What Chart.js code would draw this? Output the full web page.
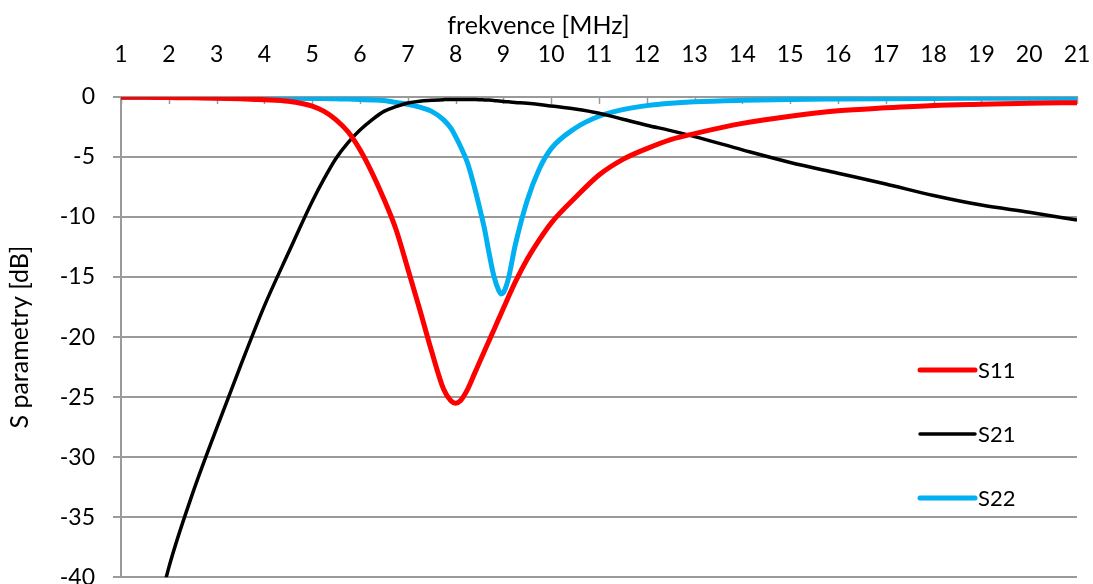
<!DOCTYPE html>
<html>
<head>
<meta charset="utf-8">
<script src="https://cdn.jsdelivr.net/npm/chart.js@4"></script>
<style>
  html, body { margin: 0; padding: 0; overflow: hidden; background: #fff; width: 1093px; height: 584px; }
  #wrap { position: relative; width: 1093px; height: 609px; }
</style>
</head>
<body>
<div id="wrap"><canvas id="c" width="1093" height="609"></canvas></div>
<script>
// Frequency points [MHz]
const freqMHz = [1, 1.5, 2, 2.5, 3, 3.5, 4, 4.5, 5,
  5.25, 5.5, 5.75, 6,
  6.25, 6.5, 6.75, 7,
  7.25, 7.5, 7.75, 7.9,
  8, 8.1, 8.25, 8.4,
  8.5, 8.6, 8.7, 8.8,
  8.9, 8.95, 9, 9.1,
  9.25, 9.5, 9.75, 10,
  10.5, 11, 11.5, 12,
  12.5, 13, 14, 15,
  16, 17, 18, 19,
  20, 21];

// S parameters [dB]
const s11 = [-0.02, -0.03, -0.05, -0.07, -0.1, -0.15, -0.22, -0.35, -0.75,
  -1.2, -1.9, -2.9, -4.4,
  -6.3, -8.5, -11.0, -14.3,
  -17.7, -21.2, -24.35, -25.3,
  -25.5, -25.3, -24.35, -23.0,
  -22.1, -21.2, -20.3, -19.4,
  -18.5, -18.05, -17.6, -16.7,
  -15.4, -13.5, -11.9, -10.5,
  -8.4, -6.5, -5.2, -4.3,
  -3.55, -3.05, -2.2, -1.6,
  -1.15, -0.9, -0.7, -0.6,
  -0.52, -0.47];

const s21 = [-56, -47.5, -39.2, -33, -27.6, -22.4, -17.4, -13, -8.7,
  -6.8, -5.1, -3.8, -2.75,
  -1.9, -1.2, -0.8, -0.5,
  -0.35, -0.28, -0.22, -0.2,
  -0.2, -0.2, -0.2, -0.21,
  -0.22, -0.24, -0.26, -0.29,
  -0.33, -0.35, -0.37, -0.4,
  -0.45, -0.53, -0.63, -0.75,
  -1.0, -1.35, -1.85, -2.35,
  -2.8, -3.3, -4.4, -5.45,
  -6.35, -7.25, -8.2, -9.0,
  -9.6, -10.25];

const s22 = [-0.02, -0.03, -0.04, -0.05, -0.06, -0.07, -0.08, -0.1, -0.12,
  -0.13, -0.15, -0.17, -0.2,
  -0.24, -0.3, -0.45, -0.6,
  -0.85, -1.2, -1.9, -2.6,
  -3.3, -4.1, -5.5, -7.6,
  -9.2, -10.9, -13.0, -14.9,
  -16.1, -16.4, -16.3, -15.2,
  -12.3, -8.6, -6.0, -4.3,
  -2.6, -1.6, -1.05, -0.72,
  -0.52, -0.4, -0.28, -0.21,
  -0.17, -0.14, -0.12, -0.11,
  -0.1, -0.1];

const seriesNames = ['S11', 'S21', 'S22'];
const xTitle = 'frekvence [MHz]';
const yTitle = 'S parametry [dB]';

const FONT = 'Lato, "Open Sans", sans-serif';
const GRID = '#9a9a9a';

function points(values) {
  return freqMHz.map((f, i) => ({ x: f, y: values[i] }));
}

// short tick marks hanging below the top axis line
const innerTicks = {
  id: 'innerTicks',
  beforeDatasetsDraw(chart) {
    const sx = chart.scales.x;
    const top = chart.chartArea.top;
    const ctx = chart.ctx;
    ctx.save();
    ctx.strokeStyle = GRID;
    ctx.lineWidth = 1.5;
    sx.ticks.forEach((t, i) => {
      const px = Math.round(sx.getPixelForTick(i)) + 0.5;
      ctx.beginPath();
      ctx.moveTo(px, top);
      ctx.lineTo(px, top + 7);
      ctx.stroke();
    });
    ctx.restore();
  }
};

// legend drawn inside the plot, lower right
const insideLegend = {
  id: 'insideLegend',
  afterDatasetsDraw(chart, args, opts) {
    const ca = chart.chartArea;
    const ctx = chart.ctx;
    ctx.save();
    ctx.font = opts.font;
    ctx.textBaseline = 'middle';
    ctx.textAlign = 'left';
    chart.data.datasets.forEach((ds, i) => {
      const y = ca.top + opts.offsetY + i * opts.spacing;
      const x0 = ca.right - opts.offsetX;
      ctx.strokeStyle = ds.borderColor;
      ctx.lineWidth = ds.borderWidth;
      ctx.lineCap = 'round';
      ctx.beginPath();
      ctx.moveTo(x0, y);
      ctx.lineTo(x0 + opts.sample, y);
      ctx.stroke();
      ctx.fillStyle = '#000';
      ctx.fillText(ds.label, x0 + opts.sample + 3, y + 1);
    });
    ctx.restore();
  }
};

new Chart(document.getElementById('c'), {
  type: 'line',
  data: {
    datasets: [
      { label: seriesNames[0], data: points(s11), borderColor: '#ff0000', borderWidth: 5 },
      { label: seriesNames[1], data: points(s21), borderColor: '#000000', borderWidth: 3.5 },
      { label: seriesNames[2], data: points(s22), borderColor: '#00b0f0', borderWidth: 5 }
    ]
  },
  options: {
    responsive: false,
    animation: false,
    layout: { padding: { left: 0, right: 16, top: 0, bottom: 0 } },
    elements: {
      point: { radius: 0 },
      line: { cubicInterpolationMode: 'monotone', capBezierPoints: true, borderJoinStyle: 'round' }
    },
    plugins: {
      legend: { display: false },
      tooltip: { enabled: false },
      title: {
        display: true,
        text: xTitle,
        color: '#000',
        font: { family: FONT, size: 25, weight: 'normal' },
        padding: { top: 11, bottom: 0 }
      },
      insideLegend: {
        font: '22px ' + FONT,
        offsetX: 157,
        offsetY: 273,
        spacing: 64,
        sample: 55
      }
    },
    scales: {
      x: {
        type: 'linear',
        position: 'top',
        min: 1,
        max: 21,
        afterFit(scale) { scale.height = 56; },
        ticks: {
          stepSize: 1,
          color: '#000',
          font: { family: FONT, size: 23 },
          padding: 2,
          maxRotation: 0,
          autoSkip: false
        },
        grid: { display: true, drawOnChartArea: false, drawTicks: true, tickLength: 27, tickColor: 'rgba(0,0,0,0)' },
        border: { display: true, color: GRID, width: 2 }
      },
      y: {
        min: -40,
        max: 0,
        afterFit(scale) { scale.width = 121; },
        ticks: {
          stepSize: 5,
          color: '#000',
          font: { family: FONT, size: 23 },
          padding: 18
        },
        grid: { color: GRID, lineWidth: 2, tickLength: 8, drawTicks: true },
        border: { display: true, color: GRID, width: 2 },
        title: {
          display: true,
          text: yTitle,
          color: '#000',
          font: { family: FONT, size: 25 },
          padding: { top: 5, bottom: 0 }
        }
      }
    }
  },
  plugins: [innerTicks, insideLegend]
});
</script>
</body>
</html>
